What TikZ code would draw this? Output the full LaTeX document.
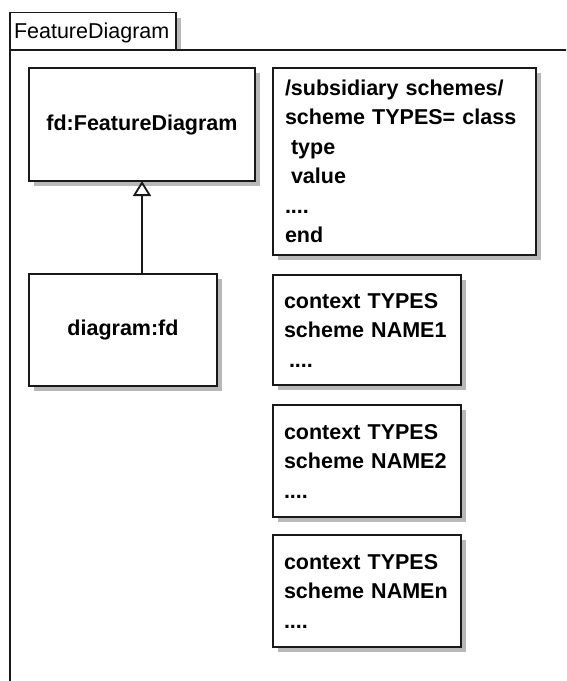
\documentclass[tikz,border=0pt]{standalone}
\usepackage{fontspec}
\setmainfont{Liberation Sans}
\usetikzlibrary{arrows.meta,shadows}

\begin{document}
\begin{tikzpicture}[x=1pt,y=-1pt,
  txt/.style={font=\fontsize{21.5}{29.5}\selectfont},
  shade box/.style={drop shadow={shadow xshift=5pt,shadow yshift=-5pt,fill=black!28,opacity=1}},
  uml/.style={draw=black!90,line width=1.8pt,fill=white,outer sep=0pt,shade box,
    anchor=north west,txt},
  classbox/.style={uml,font=\fontsize{21.5}{29.5}\selectfont\bfseries},
  notebox/.style={uml,font=\fontsize{21.5}{29.5}\selectfont\bfseries,align=left,inner xsep=11pt},
  gen/.style={draw=black!90,line width=1.8pt,-{Triangle[open,length=15pt,width=18pt]}}
]
\useasboundingbox (0,0) rectangle (566,681);
\clip (0,0) rectangle (566,681);

% package tab and frame
\node[uml,anchor=south west,minimum width=166pt,minimum height=37.5pt,
      text width=158pt,inner xsep=3pt,text height=14pt,text depth=0pt]
  (tab) at (10,50) {FeatureDiagram};
\node[draw=black!90,line width=1.8pt,fill=white,outer sep=0pt,anchor=north west,
      minimum width=700pt,minimum height=800pt] (frame) at (10,50) {};

% classes
\node[classbox,minimum width=226pt,minimum height=113pt] (fd) at (29,68) {fd:FeatureDiagram};
\node[classbox,minimum width=188pt,minimum height=112pt] (diag) at (29,274) {diagram:fd};

% scheme notes
\node[notebox,minimum width=263pt,minimum height=187pt,inner xsep=12pt,text width=239pt] (sub) at (273,68)
  {/subsidiary schemes/\\scheme TYPES= class\\\hspace*{6pt}type\\\hspace*{6pt}value\\....\\end};
\node[notebox,minimum width=188pt,minimum height=110pt,text width=166pt] (n1) at (273,275)
  {context TYPES\\scheme NAME1\\\hspace*{5pt}....};
\node[notebox,minimum width=188pt,minimum height=112pt,text width=166pt] (n2) at (273,405)
  {context TYPES\\scheme NAME2\\....};
\node[notebox,minimum width=188pt,minimum height=112pt,text width=166pt] (n3) at (273,535)
  {context TYPES\\scheme NAMEn\\....};

% generalization
\draw[gen] (fd.south |- diag.north) -- (fd.south);
\end{tikzpicture}
\end{document}
